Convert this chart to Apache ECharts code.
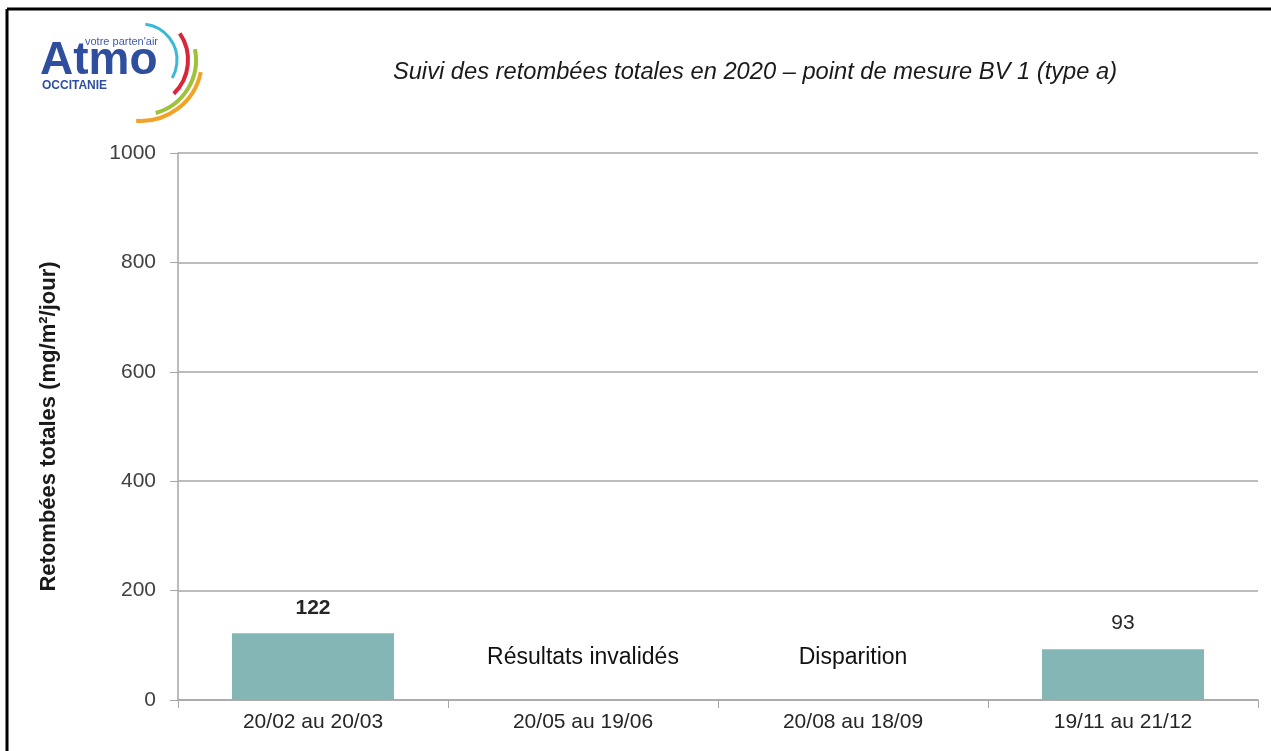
<!DOCTYPE html>
<html>
<head>
    <meta charset="utf-8">
    <script src="https://cdn.jsdelivr.net/npm/echarts@6/dist/echarts.min.js"></script>
    <style>
        html, body { margin: 0; padding: 0; background: #fff; }
        #chart { width: 1271px; height: 751px; }
    </style>
</head>
<body>
<div id="chart"></div>
<script type="text/javascript">
    // periodes de mesure
    var categories = ['20/02 au 20/03', '20/05 au 19/06', '20/08 au 18/09', '19/11 au 21/12'];
    // retombées totales (mg/m²/jour), null = pas de valeur
    var values = [122, null, null, 93];
    // commentaires pour les périodes sans résultat
    var notes = ['', 'Résultats invalidés', 'Disparition', ''];
    var noteLevel = 77;
    var yTicks = [0, 200, 400, 600, 800, 1000];

    var myChart = echarts.init(document.getElementById('chart'));

    var barData = values.map(function (v, i) {
        return {
            value: v,
            label: { fontWeight: i === 0 ? 'bold' : 'normal' }
        };
    });

    var noteData = notes.map(function (t) {
        return t ? { value: noteLevel, label: { formatter: t } } : null;
    });

    var option = {
        backgroundColor: '#fff',
        animation: false,
        textStyle: { fontFamily: 'Liberation Sans, Arial, sans-serif' },
        title: {
            text: 'Suivi des retombées totales en 2020 – point de mesure BV 1 (type a)',
            left: 750,
            top: 55,
            textAlign: 'center',
            textStyle: { fontSize: 23.7, fontStyle: 'italic', fontWeight: 'normal', color: '#1a1a1a' }
        },
        grid: { left: 178, right: 13, top: 153, bottom: 51 },
        xAxis: {
            type: 'category',
            data: categories,
            axisLine: { lineStyle: { color: '#a6a6a6', width: 1.5 } },
            axisTick: { show: true, length: 8, lineStyle: { color: '#a6a6a6' } },
            axisLabel: { fontSize: 21, color: '#262626', margin: 12 }
        },
        yAxis: {
            type: 'value',
            min: yTicks[0],
            max: yTicks[yTicks.length - 1],
            interval: 200,
            name: 'Retombées totales (mg/m²/jour)',
            nameLocation: 'middle',
            nameGap: 118,
            nameTextStyle: { fontSize: 22, fontWeight: 'bold', color: '#1a1a1a' },
            axisLine: { show: true, lineStyle: { color: '#a6a6a6', width: 1.5 } },
            axisTick: { show: true, inside: false, length: 8, lineStyle: { color: '#a6a6a6' } },
            axisLabel: {
                fontSize: 21, color: '#404040', margin: 22,
                formatter: function (v) { return String(v); }
            },
            splitLine: { lineStyle: { color: '#a6a6a6', width: 1.5 } }
        },
        series: [{
            type: 'bar',
            data: barData,
            barCategoryGap: '40%',
            itemStyle: { color: '#84b6b6' },
            label: {
                show: true,
                position: 'top',
                distance: 15,
                fontSize: 21,
                color: '#262626'
            }
        }, {
            type: 'scatter',
            data: noteData,
            symbolSize: 0,
            silent: true,
            itemStyle: { opacity: 1 },
            label: {
                show: true,
                position: 'inside',
                fontSize: 23,
                color: '#111'
            }
        }],
        graphic: [
            // cadre
            { type: 'line', shape: { x1: 7, y1: 9, x2: 1271, y2: 9 }, style: { stroke: '#000', lineWidth: 3 } },
            { type: 'line', shape: { x1: 7, y1: 9, x2: 7, y2: 751 }, style: { stroke: '#000', lineWidth: 3 } },
            // logo
            { type: 'arc', shape: { cx: 141, cy: 60, r: 36, startAngle: -1.45, endAngle: 0.52 }, style: { stroke: '#3cb9d6', lineWidth: 3, fill: null } },
            { type: 'arc', shape: { cx: 141, cy: 60, r: 47, startAngle: -0.6, endAngle: 0.8 }, style: { stroke: '#d9263a', lineWidth: 4, fill: null } },
            { type: 'arc', shape: { cx: 141, cy: 60, r: 55, startAngle: -0.2, endAngle: 1.3 }, style: { stroke: '#9dc33b', lineWidth: 4, fill: null } },
            { type: 'arc', shape: { cx: 141, cy: 60, r: 61, startAngle: 0.2, endAngle: 1.65 }, style: { stroke: '#f2a227', lineWidth: 4, fill: null } },
            { type: 'text', left: 40, top: 38, style: { text: 'Atmo', fontSize: 46, fontWeight: 'bold', fill: '#2f4f9e', fontFamily: 'Liberation Sans' } },
            { type: 'text', left: 85, top: 36, style: { text: "votre parten'air", fontSize: 11, fill: '#3d5ba9', fontFamily: 'Liberation Sans' } },
            { type: 'text', left: 42, top: 80, style: { text: 'OCCITANIE', fontSize: 12, fontWeight: 'bold', fill: '#2f4f9e', fontFamily: 'Liberation Sans' } }
        ]
    };
    myChart.setOption(option);
</script>
</body>
</html>
